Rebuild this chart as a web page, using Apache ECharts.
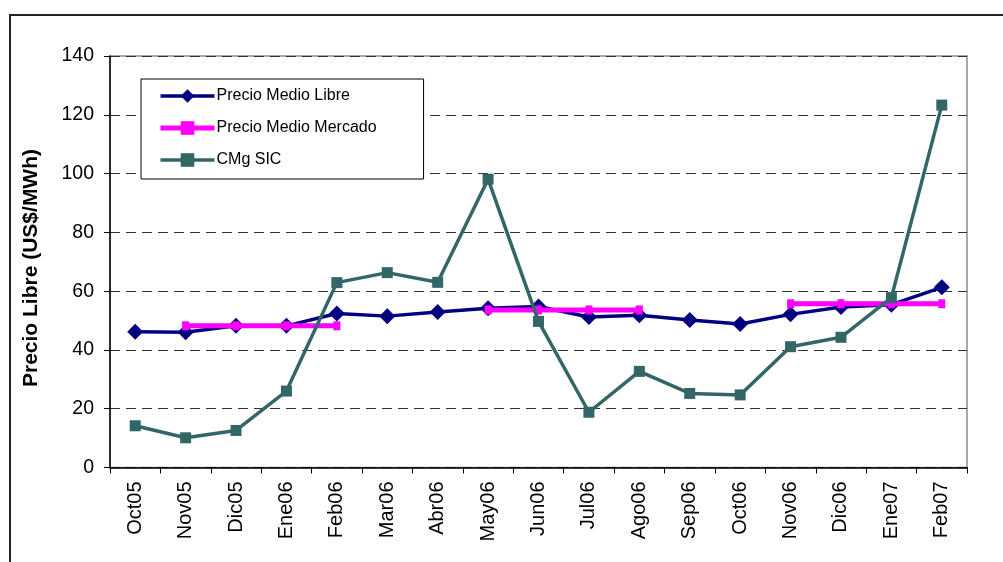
<!DOCTYPE html>
<html>
<head>
<meta charset="utf-8">
<script src="https://cdn.jsdelivr.net/npm/echarts@6/dist/echarts.min.js"></script>
<style>
  html, body { margin: 0; padding: 0; background: #fff; }
  #chart { width: 1003px; height: 562px; }
</style>
</head>
<body>
<div id="chart"></div>
<script>
// Monthly prices, Oct 2005 – Feb 2007 (US$/MWh)
const categories = ['Oct05', 'Nov05', 'Dic05', 'Ene06', 'Feb06', 'Mar06', 'Abr06', 'May06', 'Jun06',
                    'Jul06', 'Ago06', 'Sep06', 'Oct06', 'Nov06', 'Dic06', 'Ene07', 'Feb07'];
const precioMedioLibre = [46.2, 46.0, 48.2, 48.2, 52.4, 51.5, 52.9, 54.2, 54.8,
                          51.2, 51.8, 50.2, 48.8, 52.1, 54.6, 55.4, 61.3];
const precioMedioMercado = [null, 48.2, 48.2, 48.2, 48.2, null, null, 53.6, 53.6,
                            53.6, 53.6, null, null, 55.7, 55.7, 55.7, 55.7];
const cmgSIC = [14.2, 10.1, 12.6, 26.0, 62.9, 66.3, 63.0, 98.1, 49.7,
                18.8, 32.7, 25.2, 24.7, 41.1, 44.3, 57.8, 123.3];
const yTicks = [0, 20, 40, 60, 80, 100, 120, 140];
const yTitle = 'Precio Libre (US$/MWh)';

const FONT = '"Liberation Sans", Arial, sans-serif';

const chart = echarts.init(document.getElementById('chart'), null, { renderer: 'canvas' });

chart.setOption({
  backgroundColor: '#ffffff',
  animation: false,
  textStyle: { fontFamily: FONT, color: '#000' },
  graphic: [
    {
      // outer chart frame (top and left edges visible)
      type: 'rect',
      shape: { x: 10, y: 15, width: 1100, height: 700 },
      style: { fill: 'none', stroke: '#222', lineWidth: 2 },
      silent: true,
      z: -1
    },
    {
      // value axis title, rotated
      type: 'text',
      x: 31,
      y: 268,
      rotation: Math.PI / 2,
      style: {
        text: yTitle,
        font: 'bold 21px ' + FONT,
        fill: '#000',
        align: 'center',
        verticalAlign: 'middle'
      },
      silent: true
    }
  ],
  grid: {
    left: 110, top: 56, right: 36, bottom: 94.5,
    show: true,
    borderColor: '#8c8c8c',
    borderWidth: 1.5,
    backgroundColor: 'transparent'
  },
  legend: {
    orient: 'vertical',
    left: 141,
    top: 79,
    padding: [9, 47, 11, 17],
    itemGap: 16,
    itemWidth: 54,
    itemHeight: 17,
    borderColor: '#000',
    borderWidth: 1,
    backgroundColor: '#fff',
    lineStyle: { width: 'inherit' },
    textStyle: { fontFamily: FONT, fontSize: 16, color: '#000', padding: [0, 0, 0, -3] },
    data: ['Precio Medio Libre', 'Precio Medio Mercado', 'CMg SIC']
  },
  xAxis: {
    type: 'category',
    data: categories,
    boundaryGap: true,
    axisLine: { lineStyle: { color: '#000', width: 1.5 } },
    axisTick: { show: true, length: 6, lineStyle: { color: '#000' } },
    axisLabel: { rotate: 90, margin: 14, fontSize: 20, color: '#000', fontFamily: FONT, interval: 0 },
    splitLine: { show: false }
  },
  yAxis: {
    type: 'value',
    min: yTicks[0],
    max: yTicks[yTicks.length - 1],
    interval: yTicks[1] - yTicks[0],
    axisLine: { show: true, lineStyle: { color: '#000', width: 1.5 } },
    axisTick: { show: true, length: 6, lineStyle: { color: '#000' } },
    axisLabel: { margin: 16, fontSize: 19.5, color: '#000', fontFamily: FONT },
    splitLine: {
      show: true,
      lineStyle: { color: '#333', width: 1, type: [10, 6] }
    }
  },
  series: [
    {
      name: 'Precio Medio Libre',
      type: 'line',
      data: precioMedioLibre,
      symbol: 'diamond',
      symbolSize: 16,
      lineStyle: { color: '#000080', width: 3.5 },
      itemStyle: { color: '#000080' },
      z: 2
    },
    {
      name: 'Precio Medio Mercado',
      type: 'line',
      data: precioMedioMercado,
      connectNulls: false,
      symbol: 'rect',
      symbolSize: [7, 9],
      lineStyle: { color: '#ff00ff', width: 5 },
      itemStyle: { color: '#ff00ff' },
      z: 3
    },
    {
      name: 'CMg SIC',
      type: 'line',
      data: cmgSIC,
      symbol: 'rect',
      symbolSize: 11,
      lineStyle: { color: '#336666', width: 3.5 },
      itemStyle: { color: '#336666' },
      z: 4
    }
  ]
});
</script>
</body>
</html>
